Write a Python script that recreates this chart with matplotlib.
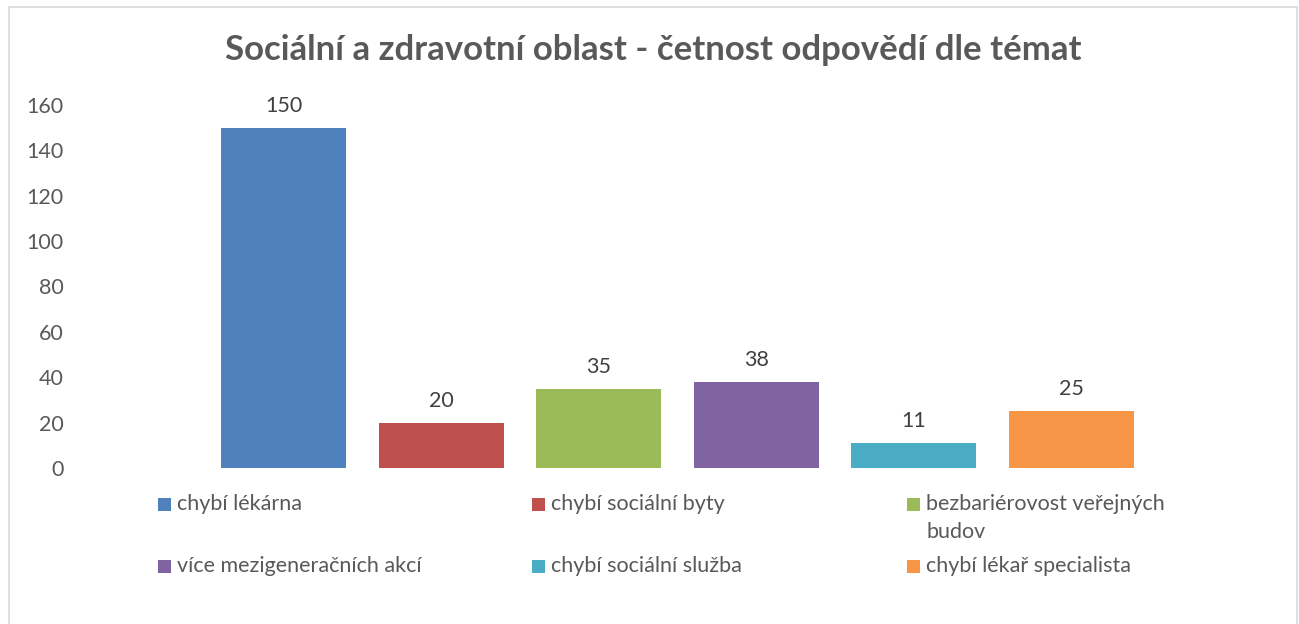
import matplotlib
matplotlib.use("Agg")
import matplotlib.pyplot as plt
from matplotlib.patches import Rectangle

categories = ["chybí lékárna", "chybí sociální byty", "bezbariérovost veřejných\nbudov",
              "více mezigeneračních akcí", "chybí sociální služba", "chybí lékař specialista"]
values = [150, 20, 35, 38, 11, 25]
colors = ["#4F81BD", "#C0504D", "#9BBB59", "#8064A2", "#4BACC6", "#F79646"]
yticks = [0, 20, 40, 60, 80, 100, 120, 140, 160]
title = "Sociální a zdravotní oblast - četnost odpovědí dle témat"

plt.rcParams['font.family'] = ['Lato', 'DejaVu Sans']

W, H = 1299, 624
fig = plt.figure(figsize=(W / 100, H / 100), dpi=100)
fig.patch.set_facecolor("white")

# border
fig.patches.append(Rectangle((9 / W, -0.05), (1297 - 9) / W, 1.05 - 7 / H,
                             transform=fig.transFigure, fill=False,
                             edgecolor="#D9D9D9", linewidth=1.2))

step = 157.6
c0 = 283.5
xl, xr = -1.3, 6.3
left_px = c0 + xl * step
right_px = c0 + xr * step
ax = fig.add_axes([left_px / W, (H - 468) / H, (right_px - left_px) / W, (468 - 105) / H])
x = list(range(len(values)))
bars = ax.bar(x, values, width=125 / step, color=colors)
ax.set_xlim(xl, xr)
ax.set_ylim(0, 160)
ax.set_yticks(yticks)
ax.set_yticklabels([str(t) for t in yticks])
ax.set_xticks([])
for s in ax.spines.values():
    s.set_visible(False)
ax.tick_params(axis='y', length=0, pad=11, labelsize=15.5, labelcolor="#595959")

for b, v in zip(bars, values):
    ax.annotate(str(v), (b.get_x() + b.get_width() / 2, v), xytext=(0, 12),
                textcoords="offset pixels", ha="center", va="bottom",
                fontsize=15.5, color="#404040")

fig.text(653 / W, 1 - 50 / H, title, ha="center", va="center",
         fontsize=25, fontweight="bold", color="#595959")

# legend
col_x = [158, 532, 907]
row_y = [504.5, 566]
for i, (lab, col) in enumerate(zip(categories, colors)):
    cx = col_x[i % 3]
    ry = row_y[i // 3]
    fig.patches.append(Rectangle((cx / W, 1 - (ry + 6.5) / H), 13 / W, 13 / H,
                                 transform=fig.transFigure, facecolor=col, edgecolor="none"))
    fig.text((cx + 19) / W, 1 - (ry - 10) / H, lab, ha="left", va="top",
             fontsize=15.5, color="#595959", linespacing=1.5)

fig.savefig("out.png", dpi=100, facecolor="white")
